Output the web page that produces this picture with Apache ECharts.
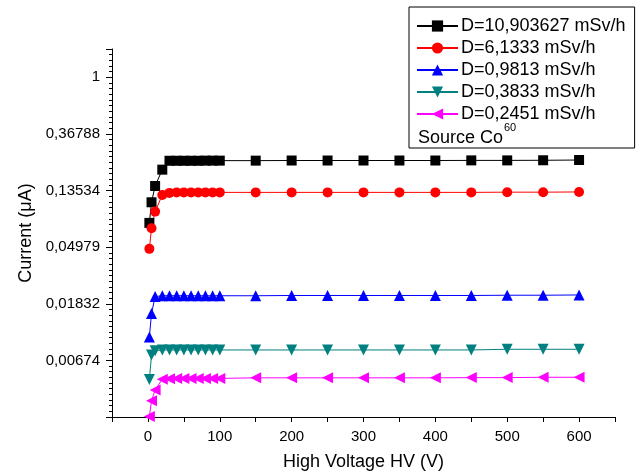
<!DOCTYPE html>
<html>
<head>
<meta charset="utf-8">
<script src="https://cdn.jsdelivr.net/npm/echarts@6/dist/echarts.min.js"></script>
<style>html,body{margin:0;padding:0;background:#fff}#c{width:643px;height:473px}</style>
</head>
<body>
<div id="c"></div>
<script>
// High voltage (V)
const voltage = [2, 5, 10, 20, 30, 40, 50, 60, 70, 80, 90, 100, 150, 200, 250, 300, 350, 400, 450, 500, 550, 600];
// Current (µA)
const curD10_9 = [0.0764, 0.110, 0.1467, 0.1957, 0.229, 0.229, 0.229, 0.229, 0.229, 0.2295, 0.2295, 0.2295, 0.2295, 0.230, 0.230, 0.230, 0.230, 0.230, 0.2305, 0.2305, 0.231, 0.232];
const curD6_13 = [0.0483, 0.0695, 0.0933, 0.1252, 0.1298, 0.131, 0.131, 0.131, 0.131, 0.131, 0.131, 0.131, 0.131, 0.131, 0.131, 0.131, 0.131, 0.131, 0.131, 0.1315, 0.1315, 0.132];
const curD0_98 = [0.0102, 0.0154, 0.0208, 0.0211, 0.0211, 0.0211, 0.0211, 0.0211, 0.0211, 0.0211, 0.0211, 0.0211, 0.0211, 0.0212, 0.0212, 0.0212, 0.0212, 0.0212, 0.0212, 0.0213, 0.0213, 0.0214];
const curD0_38 = [0.0048, 0.0074, 0.0080, 0.0081, 0.0081, 0.0081, 0.0081, 0.0081, 0.0081, 0.0081, 0.0081, 0.0081, 0.0081, 0.0081, 0.0081, 0.0081, 0.0081, 0.0081, 0.0081, 0.0082, 0.0082, 0.0082];
const curD0_25 = [0.0025, 0.0033, 0.0040, 0.00483, 0.00487, 0.0049, 0.0049, 0.0049, 0.0049, 0.0049, 0.0049, 0.0049, 0.00495, 0.00495, 0.00495, 0.00495, 0.00495, 0.00495, 0.00497, 0.00497, 0.005, 0.005];
const seriesNames = ['D=10,903627 mSv/h', 'D=6,1333 mSv/h', 'D=0,9813 mSv/h', 'D=0,3833 mSv/h', 'D=0,2451 mSv/h'];
const xTicks = [0, 100, 200, 300, 400, 500, 600];
const yTickExponents = [0, -1, -2, -3, -4, -5];

const FONT = "'Liberation Sans', Arial, sans-serif";
const colors = ['#000000', '#ff0000', '#0000ff', '#008080', '#ff00ff'];
const symbols = ['rect', 'circle', 'triangle', 'triangle', 'triangle'];
const rotations = [0, 0, 0, 180, 90];
const sizes = [10, 10, 11, 11, 11];
const allCur = [curD10_9, curD6_13, curD0_98, curD0_38, curD0_25];

const series = allCur.map((arr, i) => ({
  name: seriesNames[i],
  type: 'line',
  data: voltage.map((v, k) => [v, Math.log(arr[k])]),
  symbol: symbols[i],
  symbolRotate: rotations[i],
  symbolSize: sizes[i],
  showAllSymbol: true,
  lineStyle: { color: colors[i], width: 1 },
  itemStyle: { color: colors[i] },
  emphasis: { disabled: true },
  animation: false
}));

const chart = echarts.init(document.getElementById('c'));
chart.setOption({
  animation: false,
  backgroundColor: '#ffffff',
  grid: { left: 112, right: 28, top: 49, bottom: 56, containLabel: false, outerBoundsMode: 'none' },
  xAxis: {
    type: 'value', min: -50, max: 650, interval: 50,
    name: 'High Voltage HV (V)', nameLocation: 'middle', nameGap: 36,
    nameTextStyle: { fontFamily: FONT, fontSize: 18, color: '#000' },
    axisLine: { show: true, onZero: false, lineStyle: { color: '#000', width: 1 } },
    axisTick: { show: true, inside: false, length: 5, lineStyle: { color: '#000' } },
    axisLabel: {
      fontFamily: FONT, fontSize: 15, color: '#000', margin: 12,
      formatter: v => xTicks.includes(v) ? String(v) : ''
    },
    splitLine: { show: false }
  },
  yAxis: {
    type: 'value', min: -6, max: 0.5, interval: 1,
    name: 'Current (μA)', nameLocation: 'middle', nameGap: 77,
    nameTextStyle: { fontFamily: FONT, fontSize: 18, color: '#000' },
    axisLine: { show: true, onZero: false, lineStyle: { color: '#000', width: 1 } },
    axisTick: { show: true, inside: false, length: 6, lineStyle: { color: '#000' } },
    minorTick: { show: true, splitNumber: 10, length: 3, lineStyle: { color: '#000' } },
    axisLabel: {
      fontFamily: FONT, fontSize: 15, color: '#000', margin: 12,
      showMinLabel: false,
      formatter: v => {
        if (!yTickExponents.includes(v)) return '';
        const e = Math.exp(v);
        return v === 0 ? '1' : e.toFixed(5).replace('.', ',');
      }
    },
    splitLine: { show: false }
  },
  legend: {
    orient: 'vertical', left: 409, top: 7,
    padding: [10, 9, 25, 7],
    itemWidth: 41, itemHeight: 14, itemGap: 4,
    borderColor: '#000', borderWidth: 1,
    backgroundColor: '#fff',
    textStyle: { fontFamily: FONT, fontSize: 18, color: '#000', padding: [0, 0, 0, -2] },
    data: seriesNames,
    selectedMode: false
  },
  graphic: [
    {
      type: 'text', x: 418, y: 138, z: 100,
      style: { text: 'Source Co', fontFamily: FONT, fontSize: 18, fill: '#000', verticalAlign: 'middle', align: 'left' }
    },
    {
      type: 'text', x: 504, y: 128, z: 100,
      style: { text: '60', fontFamily: FONT, fontSize: 11, fill: '#000', verticalAlign: 'middle', align: 'left' }
    }
  ],
  series: series
});
</script>
</body>
</html>
